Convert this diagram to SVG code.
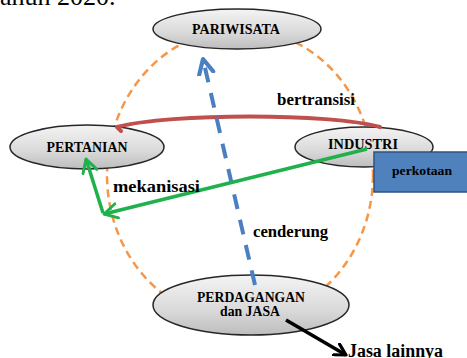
<svg xmlns="http://www.w3.org/2000/svg" width="467" height="358" viewBox="0 0 467 358">
<style>
.lbl{font-family:"Liberation Serif","Times New Roman",serif;font-weight:bold;fill:#000;}
.node{fill:url(#g);stroke:#262626;stroke-width:1.5;}
</style>
<defs>
<linearGradient id="g" x1="0" y1="0" x2="0" y2="1">
<stop offset="0" stop-color="#f4f4f4"/>
<stop offset="0.6" stop-color="#d9d9d9"/>
<stop offset="1" stop-color="#bdbdbd"/>
</linearGradient>
<marker id="ag" viewBox="0 0 12 12" refX="10" refY="6" markerWidth="5" markerHeight="5" orient="auto" markerUnits="strokeWidth">
<path d="M1,1 L10,6 L1,11" fill="none" stroke="#1fb14c" stroke-width="2" stroke-linecap="round" stroke-linejoin="round"/>
</marker>
<marker id="ab" viewBox="0 0 12 12" refX="10" refY="6" markerWidth="4.8" markerHeight="4.8" orient="auto" markerUnits="strokeWidth">
<path d="M1,1.5 L10,6 L1,10.5" fill="none" stroke="#4a7fc1" stroke-width="2.6" stroke-linecap="round" stroke-linejoin="round"/>
</marker>
<marker id="ak" viewBox="0 0 12 12" refX="10" refY="6" markerWidth="4.2" markerHeight="4.2" orient="auto" markerUnits="strokeWidth">
<path d="M1,1 L10,6 L1,11" fill="none" stroke="#000" stroke-width="2.6" stroke-linecap="round" stroke-linejoin="round"/>
</marker>
</defs>
<rect width="467" height="358" fill="#fff"/>
<text x="0" y="5" font-family="Liberation Serif,serif" font-size="26" fill="#000">ahun 2020.</text>

<ellipse cx="240" cy="175" rx="133" ry="146" fill="none" stroke="#f79646" stroke-width="2.5" stroke-dasharray="8 5"/>

<g id="pariwisata">
<ellipse class="node" cx="237" cy="29" rx="84" ry="20"/>
<text class="lbl" x="236" y="34" font-size="14" text-anchor="middle" textLength="88" lengthAdjust="spacingAndGlyphs">PARIWISATA</text>
</g>
<g id="pertanian">
<ellipse class="node" cx="87" cy="147" rx="77" ry="22"/>
<text class="lbl" x="87" y="152" font-size="14" text-anchor="middle" textLength="81" lengthAdjust="spacingAndGlyphs">PERTANIAN</text>
</g>
<g id="industri">
<ellipse class="node" cx="364" cy="147" rx="69" ry="20"/>
<text class="lbl" x="363" y="149" font-size="14" text-anchor="middle" textLength="70" lengthAdjust="spacingAndGlyphs">INDUSTRI</text>
</g>
<g id="perdagangan">
<ellipse class="node" cx="251" cy="305" rx="98" ry="30"/>
<text class="lbl" x="251" y="302" font-size="14" text-anchor="middle" textLength="108" lengthAdjust="spacingAndGlyphs">PERDAGANGAN</text>
<text class="lbl" x="250" y="316" font-size="14" text-anchor="middle" textLength="60" lengthAdjust="spacingAndGlyphs">dan JASA</text>
</g>

<g id="connectors">
<path d="M380,127 C330,113 170,113 117,127 L121,131" fill="none" stroke="#c0504d" stroke-width="4" stroke-linecap="round" stroke-linejoin="round"/>
<line x1="255" y1="285" x2="203" y2="59" stroke="#4a7fc1" stroke-width="4" stroke-dasharray="15 11" marker-end="url(#ab)"/>
<line x1="367" y1="149" x2="104" y2="214" stroke="#1fb14c" stroke-width="3.5" marker-end="url(#ag)"/>
<line x1="103" y1="213" x2="86" y2="159" stroke="#1fb14c" stroke-width="3.5" marker-end="url(#ag)"/>
<line x1="286" y1="320" x2="346" y2="355" stroke="#000" stroke-width="3.5" marker-end="url(#ak)"/>
</g>

<g id="perkotaan">
<rect x="374" y="152" width="96" height="40" fill="#4f81bd" stroke="#2e5283" stroke-width="1.5"/>
<text class="lbl" x="422" y="175" font-size="12" text-anchor="middle" textLength="60" lengthAdjust="spacingAndGlyphs">perkotaan</text>
</g>

<text class="lbl" x="277" y="105" font-size="17" textLength="78" lengthAdjust="spacingAndGlyphs">bertransisi</text>
<text class="lbl" x="113" y="192" font-size="16" textLength="87" lengthAdjust="spacingAndGlyphs">mekanisasi</text>
<text class="lbl" x="253" y="237" font-size="17" textLength="75" lengthAdjust="spacingAndGlyphs">cenderung</text>
<text class="lbl" x="348" y="357" font-size="18" textLength="95" lengthAdjust="spacingAndGlyphs">Jasa lainnya</text>
</svg>
